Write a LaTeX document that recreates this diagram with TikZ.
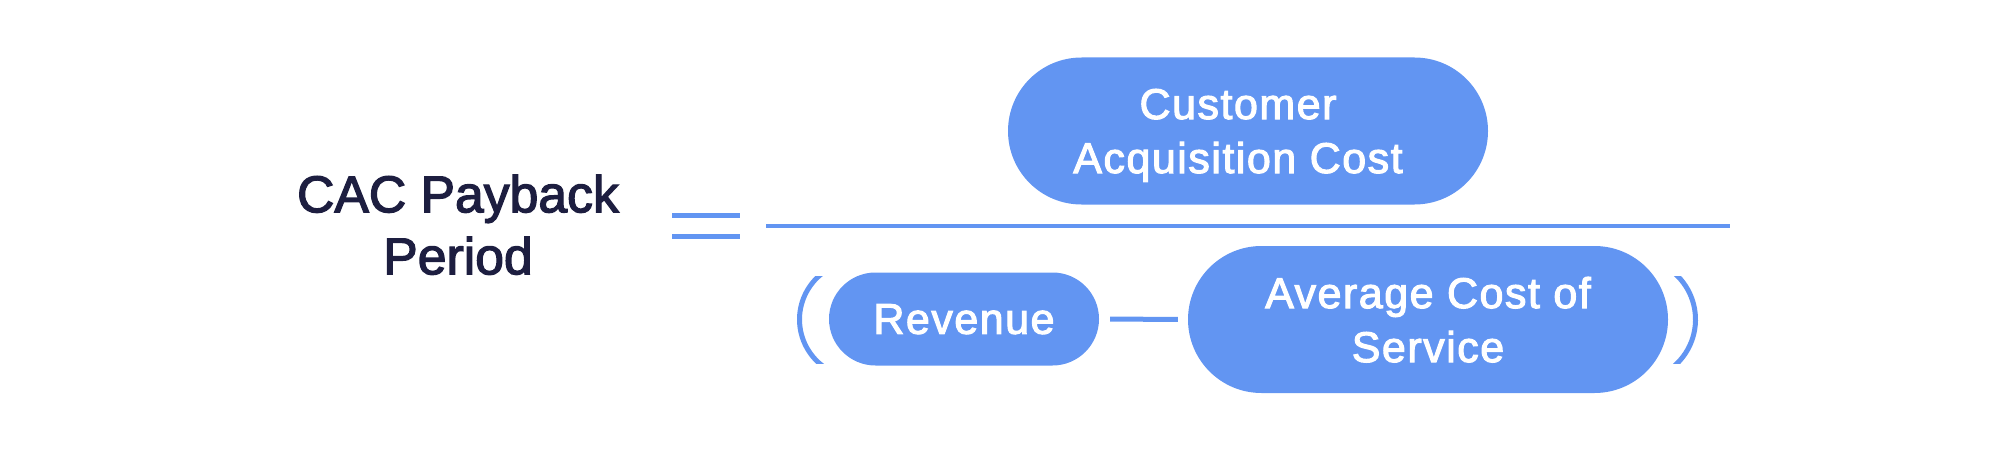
\documentclass[tikz,border=0pt]{standalone}
\usepackage{fontspec}
\setmainfont{Liberation Sans}
\newfontfamily\pillfont[LetterSpace=3.5,FakeBold=2.5]{Liberation Sans}
\newfontfamily\titlefont[FakeBold=2.5]{Liberation Sans}
\definecolor{pillblue}{HTML}{6295F2}
\definecolor{darkink}{HTML}{1D1E40}
\tikzset{
  pill/.style={fill=pillblue, text=white, inner sep=0pt, align=center,
    font=\pillfont\fontsize{43}{54}\selectfont, text depth=0pt},
  bigpill/.style={pill, minimum width=480pt, minimum height=147pt, rounded corners=73.5pt},
  smallpill/.style={pill, minimum width=270pt, minimum height=93pt, rounded corners=46.5pt},
  bar/.style={draw=pillblue, line width=5pt},
  fracbar/.style={draw=pillblue, line width=4pt},
  parenline/.style={draw=pillblue, line width=5pt}
}
\begin{document}
\begin{tikzpicture}[x=1pt,y=-1pt]
\useasboundingbox (0,0) rectangle (2000,452);
% left side
\node[text=darkink, align=center, inner sep=0pt, text depth=0pt,
  font=\titlefont\fontsize{51.7}{62}\selectfont] (title) at (458,224.5) {CAC Payback\\Period};
% equals sign
\coordinate (eqa1) at (672,215.5); \coordinate (eqa2) at (740,215.5);
\coordinate (eqb1) at (672,236);   \coordinate (eqb2) at (740,236);
\draw[bar] (eqa1) -- (eqa2);
\draw[bar] (eqb1) -- (eqb2);
% numerator
\node[bigpill] (cac) at (1248,131) {Customer\hspace*{20pt}\\Acquisition Cost\hspace*{20pt}};
% fraction bar
\coordinate (fl) at (766,226); \coordinate (fr) at (1730,226);
\draw[fracbar] (fl) -- (fr);
% denominator
\node[smallpill] (rev) at (964,319) {Revenue};
\node[bigpill] (avg) at (1428,319.5) {Average Cost of\\Service};
\draw[bar, shorten <=11pt, shorten >=10pt] (rev.east) -- (avg.west);
% parentheses
\begin{scope}
  \clip (780,276) rectangle (840,363);
  \draw[parenline] (857.8,319.5) ++(125:58.3) arc[start angle=125, end angle=235, radius=58.3];
\end{scope}
\begin{scope}
  \clip (1660,276) rectangle (1710,363);
  \draw[parenline] (1633.9,319.5) ++(-55:61.6) arc[start angle=-55, end angle=55, radius=61.6];
\end{scope}
\end{tikzpicture}
\end{document}
